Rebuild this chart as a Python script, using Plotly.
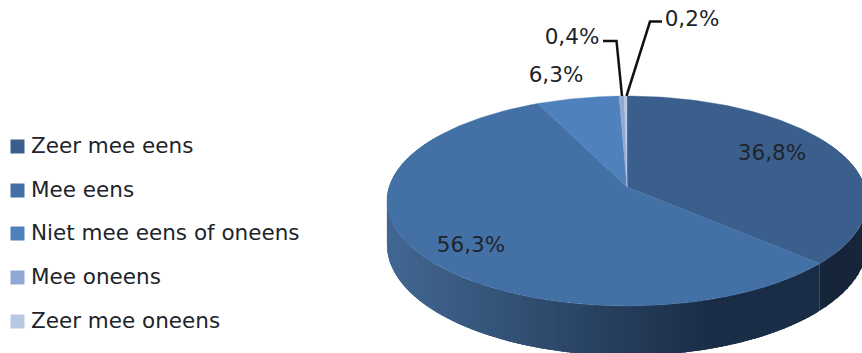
import math
import plotly.graph_objects as go

# Survey answers and their shares in percent
categories = ["Zeer mee eens", "Mee eens", "Niet mee eens of oneens", "Mee oneens", "Zeer mee oneens"]
shares = [36.8, 56.3, 6.3, 0.4, 0.2]
slice_colors = ["#3a5f8c", "#4371a6", "#4f81bd", "#8fa9d2", "#b9c8e2"]

# Legend row positions and value label anchors on the pixel-sized axes
legend_rows = [146, 190, 233, 277, 321]
label_x = [772, 471, 556, 572, 692]
label_y = [155, 247, 77, 39, 21]

# Leader lines for the two smallest slices
leaders = [([603, 616.5, 622], [41, 41, 96]), ([662, 650, 626.5], [21.5, 21.5, 96])]

# Tilted disc: projective view of a unit circle, nearer edge drawn larger
CX, CY = 627, 187
A, B, K = 103.1, 237.9, 0.1333
DEPTH = 43

TEXT_FONT = dict(family="DejaVu Sans", size=21.5, color="#20242b")


def rim(theta_deg, drop=0.0):
    t = math.radians(theta_deg)
    u, v = math.sin(t), -math.cos(t)
    d = 1 - K * v
    return CX + B * u / d, CY + A * v / d + drop / d


def mix(c1, c2, f):
    f = max(0.0, min(1.0, f))
    return "rgb(%d,%d,%d)" % tuple(round(a + (b - a) * f) for a, b in zip(c1, c2))


fig = go.Figure()


def wall_strip(first, last, color):
    x0, y0 = rim(first)
    x1, y1 = rim(last)
    x2, y2 = rim(last, DEPTH)
    x3, y3 = rim(first, DEPTH)
    fig.add_trace(go.Scatter(
        x=[x0, x1, x2, x3, x0], y=[y0, y1, y2, y3, y0],
        mode="lines", fill="toself", fillcolor=color,
        line=dict(width=0), hoverinfo="skip", showlegend=False,
    ))


# Side wall: a darker stretch under the first slice, then overlapping strips
# so the shade of the second slice's wall changes smoothly along the rim
boundary = 360 * shares[0] / 100
theta = 60.0
while theta < boundary:
    next_theta = min(theta + 3.0, boundary)
    wall_strip(theta, next_theta, "rgb(22,37,58)")
    theta = next_theta - 0.5 if next_theta < boundary else boundary

theta = boundary
while theta < 300:
    shade = mix((26, 45, 70), (66, 103, 146), (715 - rim(theta)[0]) / (715 - 390))
    wall_strip(theta, theta + 2.5, shade)
    theta += 1.0

# Top face, one wedge per answer, clockwise from the back of the disc
start = 0.0
for name, share, color in zip(categories, shares, slice_colors):
    sweep = 360 * share / 100
    steps = max(2, int(sweep))
    pts = [rim(start + sweep * i / steps) for i in range(steps + 1)]
    fig.add_trace(go.Scatter(
        x=[CX] + [p[0] for p in pts] + [CX],
        y=[CY] + [p[1] for p in pts] + [CY],
        mode="lines", fill="toself", fillcolor=color,
        line=dict(color=color, width=0.4), name=name, showlegend=False,
    ))
    start += sweep

for xs, ys in leaders:
    fig.add_trace(go.Scatter(
        x=xs, y=ys, mode="lines", line=dict(color="#111111", width=2.5),
        hoverinfo="skip", showlegend=False,
    ))

# Value labels with a decimal comma
fig.add_trace(go.Scatter(
    x=label_x, y=label_y, mode="text",
    text=[f"{s:.1f}%".replace(".", ",") for s in shares],
    textposition="middle center",
    textfont=TEXT_FONT,
    hoverinfo="skip", showlegend=False,
))

# Legend column: a square swatch followed by the answer text
for name, color, row in zip(categories, slice_colors, legend_rows):
    fig.add_trace(go.Scatter(
        x=[17.5], y=[row + 0.5], mode="markers",
        marker=dict(symbol="square", size=14, color=color),
        hoverinfo="skip", showlegend=False,
    ))
    fig.add_trace(go.Scatter(
        x=[31], y=[row + 2], mode="text",
        text=[name], textposition="middle right",
        textfont=TEXT_FONT,
        hoverinfo="skip", showlegend=False,
    ))

fig.update_layout(
    width=862, height=353, autosize=False,
    margin=dict(l=0, r=0, t=0, b=0),
    paper_bgcolor="white", plot_bgcolor="white",
    xaxis=dict(range=[0, 862], visible=False, fixedrange=True),
    yaxis=dict(range=[353, 0], visible=False, fixedrange=True),
)
fig.write_html("out.html", config=dict(displayModeBar=False))
